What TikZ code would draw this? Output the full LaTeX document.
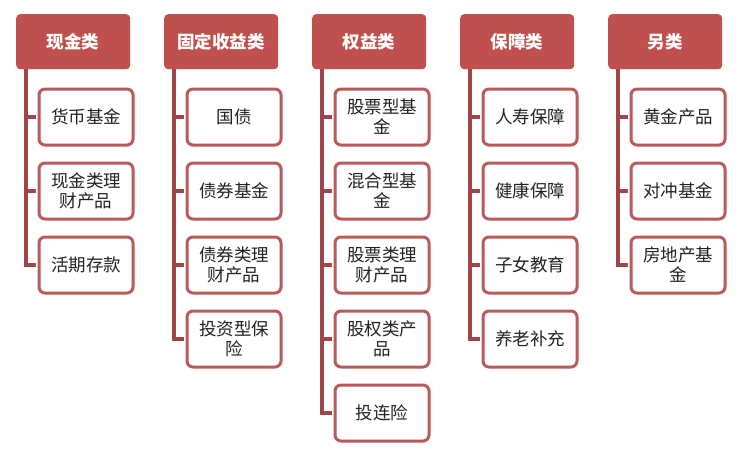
\documentclass[tikz,border=0pt]{standalone}
\usepackage{fontspec}
\setmainfont{Noto Sans CJK SC}
\definecolor{hd}{HTML}{C0504D}
\definecolor{bd}{HTML}{B95A5B}
\definecolor{ln}{HTML}{A0444A}
\definecolor{tx}{HTML}{222222}
\begin{document}
\begin{tikzpicture}[x=1pt,y=-1pt,
  head/.style={fill=hd, rounded corners=4pt, minimum width=114pt, minimum height=55pt,
    text=white, font=\bfseries\fontsize{17.5}{20}\selectfont, anchor=north west, inner sep=0pt},
  item/.style={draw=bd, line width=3pt, rounded corners=6pt, fill=white, minimum width=94pt,
    minimum height=56pt, align=center, text=tx, font=\fontsize{17.5}{20}\selectfont,
    anchor=north west, inner sep=0pt},
  spine/.style={draw=ln, line width=4pt}]
\useasboundingbox (0,0) rectangle (741,451);
% headers
\node[head] (h1) at (16,14) {现金类};
\node[head] (h2) at (164,14) {固定收益类};
\node[head] (h3) at (312,14) {权益类};
\node[head] (h4) at (460,14) {保障类};
\node[head] (h5) at (608,14) {另类};
% column 1
\node[item] (c11) at (37.5,87.5) {货币基金};
\node[item] (c12) at (37.5,161.5) {现金类理\\财产品};
\node[item] (c13) at (37.5,235.5) {活期存款};
% column 2
\node[item] (c21) at (185.5,87.5) {国债};
\node[item] (c22) at (185.5,161.5) {债券基金};
\node[item] (c23) at (185.5,235.5) {债券类理\\财产品};
\node[item] (c24) at (185.5,309.5) {投资型保\\险};
% column 3
\node[item] (c31) at (333.5,87.5) {股票型基\\金};
\node[item] (c32) at (333.5,161.5) {混合型基\\金};
\node[item] (c33) at (333.5,235.5) {股票类理\\财产品};
\node[item] (c34) at (333.5,309.5) {股权类产\\品};
\node[item] (c35) at (333.5,383.5) {投连险};
% column 4
\node[item] (c41) at (481.5,87.5) {人寿保障};
\node[item] (c42) at (481.5,161.5) {健康保障};
\node[item] (c43) at (481.5,235.5) {子女教育};
\node[item] (c44) at (481.5,309.5) {养老补充};
% column 5
\node[item] (c51) at (629.5,87.5) {黄金产品};
\node[item] (c52) at (629.5,161.5) {对冲基金};
\node[item] (c53) at (629.5,235.5) {房地产基\\金};
% spines
\foreach \c/\n in {1/3,2/4,3/5,4/4,5/3}{
  \coordinate (s\c) at ([xshift=10pt]h\c.south west);
  \draw[spine] (s\c) |- ([xshift=-1.5pt]c\c\n.west);
  \foreach \k in {1,...,\n}{
    \draw[spine] ([xshift=-1.5pt]c\c\k.west) -- (c\c\k.west -| s\c);
  }
}
\end{tikzpicture}
\end{document}
